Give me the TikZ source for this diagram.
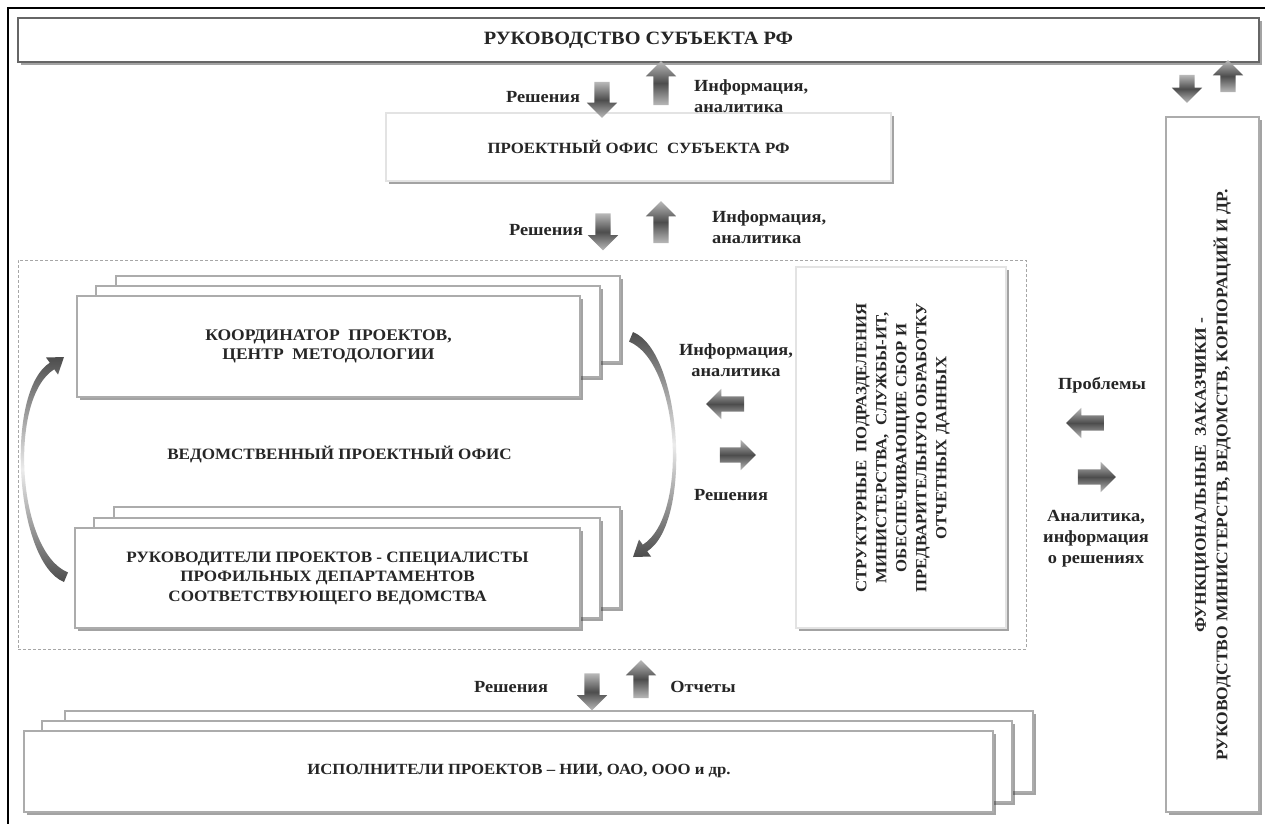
\documentclass[tikz,border=0pt]{standalone}
\usepackage{fontspec}
\setmainfont{Liberation Serif}[FakeStretch=1.08]
\usetikzlibrary{shapes.arrows,shadows,fit}

% block arrow: name, centre, direction (deg), length
\newcommand\blockarrow[4]{\node[barrow, rotate=#3, minimum height=#4pt] (#1) at #2 {};}

\tikzset{
  % tapered curved arrow between the two stacked panels on the left
  crescent/.pic={
    \path[top color=black!70, bottom color=black!70, middle color=gray!15]
      (64,582) .. controls (15,562) and (4,392) .. (49.8,362.7)
      -- (46,357.5) -- (64,357) -- (58,374.5) -- (54.2,369.3)
      .. controls (8,398) and (17,552) .. (68,572.4) -- cycle;
  }
}

\begin{document}
\begin{tikzpicture}[x=1pt,y=-1pt,
  softshadow/.style={drop shadow={shadow xshift=2.5pt,shadow yshift=-2.5pt,opacity=0.45,fill=black!80}},
  panel/.style={draw=gray!65, line width=1.4pt, fill=white, inner sep=0pt, softshadow},
  softpanel/.style={panel, draw=gray!22},
  ptext/.style={text=black!85, align=center, inner sep=0pt},
  boxfont/.style={ptext, font=\fontsize{15.8pt}{19.5pt}\selectfont\bfseries},
  lbl/.style={text=black!85, font=\fontsize{17pt}{21pt}\selectfont\bfseries, inner sep=0pt},
  vtext/.style={ptext, rotate=90},
  barrow/.style={single arrow, draw=none, inner xsep=0pt, inner ysep=7.5pt, minimum width=30pt,
    single arrow head extend=7.5pt, top color=gray!55, bottom color=gray!55, middle color=black!70},
]
\useasboundingbox (0,0) rectangle (1265,823);
\fill[white] (0,0) rectangle (1265,823);

% outer frame
\draw[line width=2.5pt] (8,840) -- (8,8) -- (1280,8);

% top level
\node[panel, draw=black!60, line width=2.5pt, fit={(18,18)(1259,62)}] (lead) {};
\node[ptext, font=\fontsize{18.8pt}{22pt}\selectfont\bfseries] (leadtxt) at (lead.center)
  {РУКОВОДСТВО СУБЪЕКТА РФ};

% regional project office
\node[softpanel, fit={(386,113)(891,181)}] (office) {};
\node[ptext, font=\fontsize{15.6pt}{19pt}\selectfont\bfseries] (officetxt) at (office.center)
  {ПРОЕКТНЫЙ ОФИС\ \ СУБЪЕКТА РФ};

% departmental project office (dashed frame)
\node[draw=gray!70, line width=0.8pt, dash pattern=on 3pt off 2pt, inner sep=0pt,
  fit={(18,260)(1026,649)}] (dept) {};
\node[boxfont] (depttxt) at (339.5,454) {ВЕДОМСТВЕННЫЙ ПРОЕКТНЫЙ ОФИС};

% coordinator stack
\node[panel, fit={(116,276)(620,362)}] (coordC) {};
\node[panel, fit={(96,286)(600,377)}] (coordB) {};
\node[panel, fit={(77,296)(580,397)}] (coord) {};
\node[boxfont, font=\fontsize{16.2pt}{19.5pt}\selectfont\bfseries] (coordtxt) at (coord.center)
  {КООРДИНАТОР\ \ ПРОЕКТОВ,\\ЦЕНТР\ \ МЕТОДОЛОГИИ};

% project managers stack
\node[panel, fit={(114,507)(620,608)}] (mgrC) {};
\node[panel, fit={(94,518)(600,618)}] (mgrB) {};
\node[panel, fit={(75,528)(580,628)}] (mgr) {};
\node[boxfont] (mgrtxt) at (mgr.center)
  {РУКОВОДИТЕЛИ ПРОЕКТОВ - СПЕЦИАЛИСТЫ\\ПРОФИЛЬНЫХ ДЕПАРТАМЕНТОВ\\СООТВЕТСТВУЮЩЕГО ВЕДОМСТВА};

% structural units
\node[softpanel, fit={(796,267)(1006,628)}] (units) {};
\node[vtext, font=\fontsize{15.5pt}{20pt}\selectfont\bfseries] (unitstxt) at (903,448)
  {СТРУКТУРНЫЕ\ \ ПОДРАЗДЕЛЕНИЯ\\МИНИСТЕРСТВА,\ \ СЛУЖБЫ-ИТ,\\ОБЕСПЕЧИВАЮЩИЕ СБОР И\\ПРЕДВАРИТЕЛЬНУЮ ОБРАБОТКУ\\ОТЧЕТНЫХ ДАННЫХ};

% functional customers
\node[panel, fit={(1166,117)(1259,812)}] (clients) {};
\node[vtext, font=\fontsize{16.2pt}{21.5pt}\selectfont\bfseries] (clientstxt) at (1213,475)
  {ФУНКЦИОНАЛЬНЫЕ\ \ ЗАКАЗЧИКИ -\\РУКОВОДСТВО МИНИСТЕРСТВ, ВЕДОМСТВ, КОРПОРАЦИЙ И ДР.};

% contractors stack
\node[panel, fit={(65,711)(1033,792)}] (execC) {};
\node[panel, fit={(42,721)(1012,802)}] (execB) {};
\node[panel, fit={(24,731)(993,812)}] (exec) {};
\node[ptext, font=\fontsize{15.5pt}{18pt}\selectfont\bfseries] (exectxt) at (519,771)
  {ИСПОЛНИТЕЛИ ПРОЕКТОВ – НИИ, ОАО, ООО и др.};

% block arrows
\blockarrow{a1d}{(602,96)}{-90}{36}
\blockarrow{a1u}{(661,87)}{90}{44}
\blockarrow{a2d}{(603,228)}{-90}{37}
\blockarrow{a2u}{(661,226)}{90}{42}
\blockarrow{a3d}{(592,688)}{-90}{37}
\blockarrow{a3u}{(641,683)}{90}{38}
\blockarrow{a4d}{(1187,85)}{-90}{28}
\blockarrow{a4u}{(1228,80)}{90}{32}
\blockarrow{m1l}{(729,404)}{180}{38}
\blockarrow{m1r}{(734,455)}{0}{36}
\blockarrow{m2l}{(1089,423)}{180}{38}
\blockarrow{m2r}{(1093,477)}{0}{38}

% curved arrows inside the departmental office
\pic at (0,0) {crescent};
\pic[rotate around={180:(348.5,457)}] at (0,0) {crescent};

% labels
\node[lbl] (r1) at (543,97) {Решения};
\node[lbl, anchor=west, align=left] (i1) at (694,96) {Информация,\\аналитика};
\node[lbl] (r2) at (546,230) {Решения};
\node[lbl, anchor=west, align=left] (i2) at (712,227) {Информация,\\аналитика};
\node[lbl, align=center] (i3) at (736,360) {Информация,\\аналитика};
\node[lbl] (r3) at (731,495) {Решения};
\node[lbl] (p1) at (1102,385) {Проблемы};
\node[lbl, align=center] (a1) at (1096,539) {Аналитика,\\информация\\о решениях};
\node[lbl] (r4) at (511,687) {Решения};
\node[lbl] (o1) at (703,687) {Отчеты};
\end{tikzpicture}
\end{document}
